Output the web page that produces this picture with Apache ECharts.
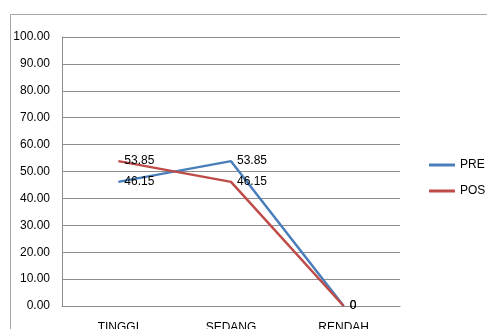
<!DOCTYPE html>
<html>
<head>
<meta charset="utf-8">
<script src="https://cdn.jsdelivr.net/npm/echarts@6/dist/echarts.min.js"></script>
<style>
  html, body { margin: 0; padding: 0; background: #fff; }
  #chart { width: 487px; height: 329px; }
</style>
</head>
<body>
<div id="chart"></div>
<script>
// Categories and series values
const categories = ['TINGGI', 'SEDANG', 'RENDAH'];
const preValues = [46.15, 53.85, 0];
const posValues = [53.85, 46.15, 0];
const seriesNames = ['PRE', 'POS'];

const FONT = '"Liberation Sans", Arial, sans-serif';
const chart = echarts.init(document.getElementById('chart'), null, { renderer: 'canvas' });

function lineSeries(name, data, color) {
  return {
    name: name,
    type: 'line',
    data: data,
    symbol: 'circle',
    symbolSize: 0,
    showSymbol: true,
    lineStyle: { color: color, width: 2.5 },
    itemStyle: { color: color },
    label: {
      show: true,
      position: 'right',
      distance: 6,
      color: '#000',
      fontFamily: FONT,
      fontSize: 12,
      formatter: p => String(p.value)
    },
    labelLayout: { hideOverlap: false },
    animation: false
  };
}

chart.setOption({
  backgroundColor: '#fff',
  animation: false,
  graphic: [{
    type: 'rect',
    shape: { x: 10.5, y: 14.5, width: 520, height: 340 },
    style: { fill: 'none', stroke: '#a6a6a6', lineWidth: 1 },
    silent: true,
    z: -1
  }],
  grid: { left: 62, right: 87, top: 37, bottom: 23, containLabel: false, outerBoundsMode: 'none' },
  legend: {
    orient: 'vertical',
    left: 424,
    top: 154,
    itemWidth: 26,
    itemHeight: 3,
    itemGap: 14,
    icon: 'rect',
    textStyle: { fontFamily: FONT, fontSize: 12, color: '#000' },
    data: seriesNames
  },
  xAxis: {
    type: 'category',
    data: categories,
    boundaryGap: true,
    axisLine: { lineStyle: { color: '#8c8c8c', width: 1 } },
    axisTick: { show: false },
    axisLabel: { color: '#000', fontFamily: FONT, fontSize: 12, margin: 16 }
  },
  yAxis: {
    type: 'value',
    min: 0,
    max: 100,
    interval: 10,
    axisLine: { show: true, lineStyle: { color: '#8c8c8c', width: 1 } },
    axisTick: { show: false },
    axisLabel: {
      color: '#000',
      fontFamily: FONT,
      fontSize: 12,
      margin: 12,
      formatter: v => v.toFixed(2)
    },
    splitLine: { lineStyle: { color: '#8c8c8c', width: 1 } }
  },
  series: [
    lineSeries(seriesNames[0], preValues, '#4a7ebb'),
    lineSeries(seriesNames[1], posValues, '#be4b48')
  ]
});
</script>
</body>
</html>
